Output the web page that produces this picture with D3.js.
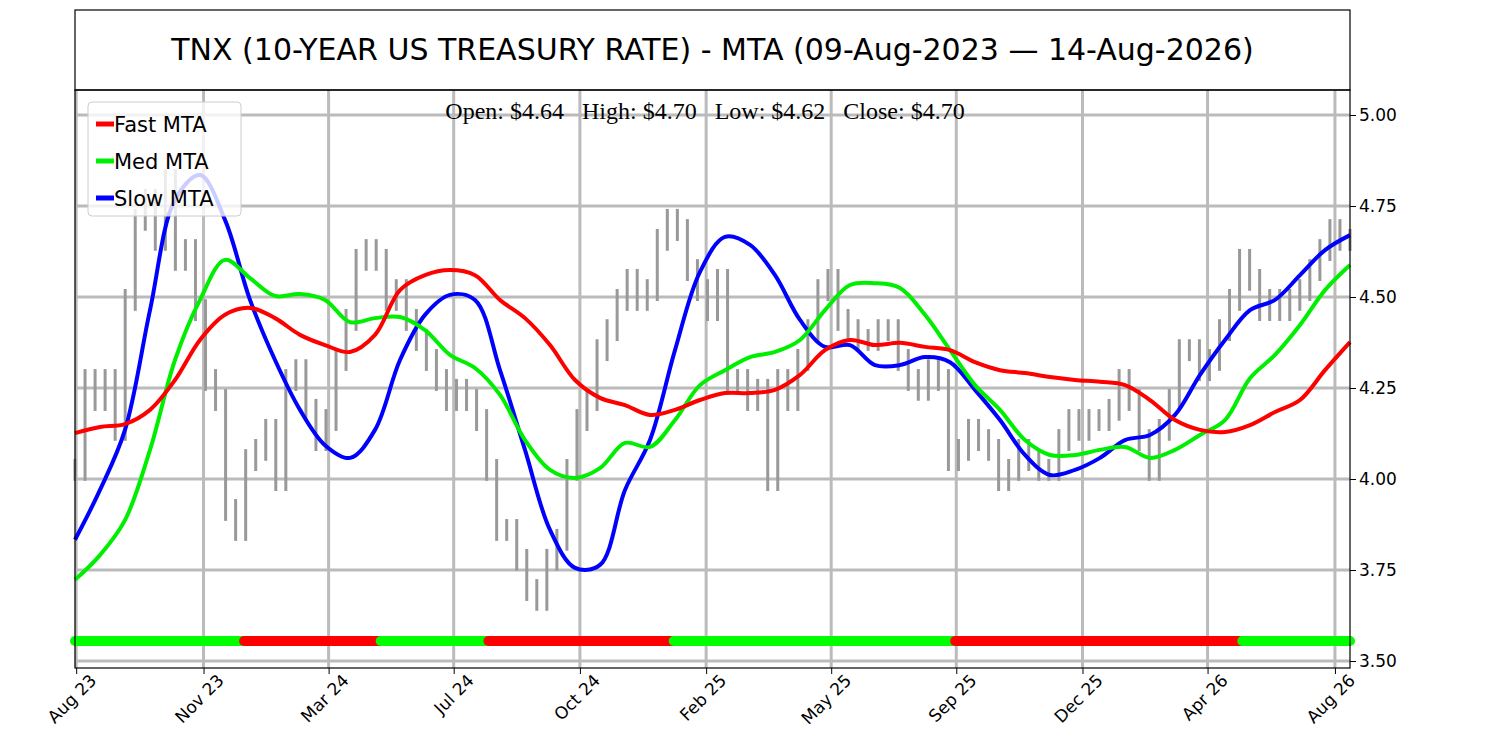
<!DOCTYPE html>
<html><head><meta charset="utf-8">
<script src="https://cdn.jsdelivr.net/npm/d3@7"></script>
<style>body{margin:0;background:#fff}</style>
</head><body>
<script>
// data
var startDate = new Date(2023, 7, 9), endDate = new Date(2026, 7, 14);
var priceClose = [4.025,4.272,4.217,4.272,4.135,4.492,4.712,4.767,4.657,4.821,4.602,4.629,4.464,4.272,4.217,3.915,3.86,4.052,4.08,4.135,3.997,4.272,4.299,4.19,4.107,4.162,4.327,4.437,4.602,4.629,4.602,4.492,4.519,4.437,4.382,4.327,4.272,4.217,4.245,4.217,4.162,4.025,3.86,3.86,3.778,3.695,3.668,3.778,3.833,4.025,4.162,4.217,4.354,4.409,4.492,4.547,4.492,4.519,4.657,4.712,4.684,4.574,4.519,4.464,4.547,4.272,4.272,4.217,4.245,3.997,4.272,4.217,4.327,4.409,4.519,4.547,4.437,4.409,4.382,4.382,4.409,4.409,4.327,4.272,4.245,4.299,4.272,4.052,4.08,4.135,4.107,4.08,3.997,4.025,4.08,4.052,4.025,4.025,4.107,4.162,4.135,4.162,4.162,4.19,4.272,4.217,4.107,4.025,4.135,4.217,4.354,4.354,4.299,4.327,4.409,4.492,4.602,4.547,4.464,4.492,4.464,4.492,4.519,4.574,4.629,4.684,4.657,4.657];
var fastMTA = [4.126,4.143,4.151,4.19,4.272,4.382,4.451,4.47,4.442,4.396,4.368,4.349,4.396,4.519,4.56,4.574,4.56,4.492,4.442,4.368,4.272,4.223,4.203,4.176,4.19,4.217,4.236,4.236,4.245,4.286,4.354,4.382,4.368,4.374,4.363,4.354,4.321,4.299,4.291,4.28,4.272,4.267,4.258,4.217,4.162,4.135,4.129,4.148,4.184,4.217,4.299,4.376];
var medMTA = [3.723,3.791,3.887,4.08,4.327,4.492,4.602,4.552,4.503,4.508,4.492,4.431,4.442,4.445,4.409,4.341,4.305,4.231,4.107,4.025,4.003,4.03,4.099,4.088,4.162,4.258,4.299,4.335,4.349,4.382,4.464,4.533,4.538,4.525,4.451,4.354,4.258,4.19,4.107,4.066,4.066,4.08,4.088,4.058,4.08,4.121,4.162,4.277,4.341,4.423,4.519,4.588];
var slowMTA = [3.833,3.970,4.135,4.464,4.767,4.835,4.712,4.492,4.327,4.19,4.093,4.058,4.135,4.327,4.451,4.506,4.492,4.299,4.08,3.86,3.756,3.764,3.97,4.107,4.354,4.569,4.665,4.643,4.56,4.437,4.363,4.368,4.313,4.313,4.335,4.321,4.245,4.162,4.066,4.011,4.025,4.058,4.107,4.121,4.176,4.286,4.382,4.464,4.492,4.56,4.629,4.67];
var signalBreaks = ["2023-08-09","2024-01-02","2024-04-29","2024-07-31","2025-01-07","2025-09-07","2026-05-13","2026-08-14"];
var signalColors = ["#00ff00","#ff0000","#00ff00","#ff0000","#00ff00","#ff0000","#00ff00"];
var yTicks = [3.50,3.75,4.00,4.25,4.50,4.75,5.00];
var xTickDates = ["2023-08-10","2023-11-28","2024-03-15","2024-07-01","2024-10-18","2025-02-04","2025-05-23","2025-09-08","2025-12-26","2026-04-13","2026-08-01"];
var xTickLabels = ["Aug 23","Nov 23","Mar 24","Jul 24","Oct 24","Feb 25","May 25","Sep 25","Dec 25","Apr 26","Aug 26"];

var W = 1500, H = 750;
var L = 75, R = 1350, T = 90, B = 668;
var parse = d3.timeParse("%Y-%m-%d");

var svg = d3.select("body").append("svg").attr("width", W).attr("height", H)
    .style("font-family", "DejaVu Sans, sans-serif");

var x = d3.scaleTime().domain([startDate, endDate]).range([L, R]);
var y = d3.scaleLinear().domain([3.4808, 5.0687]).range([B, T]);

function datesFor(arr) {
  var span = endDate - startDate;
  return arr.map(function(v, i){ return {date: new Date(+startDate + span * i / (arr.length - 1)), v: v}; });
}

// grid
svg.append("g").selectAll("line").data(yTicks).enter().append("line")
  .attr("x1", L).attr("x2", R).attr("y1", y).attr("y2", y)
  .attr("stroke", "#bbbbbb").attr("stroke-width", 3);
svg.append("g").selectAll("line").data(xTickDates).enter().append("line")
  .attr("x1", function(d){ return x(parse(d)); }).attr("x2", function(d){ return x(parse(d)); })
  .attr("y1", T).attr("y2", B).attr("stroke", "#bbbbbb").attr("stroke-width", 3);

// price bars
var price = datesFor(priceClose);
svg.append("g").selectAll("line").data(price).enter().append("line")
  .attr("x1", function(d){ return x(d.date); }).attr("x2", function(d){ return x(d.date); })
  .attr("y1", function(d, i){ var p = i ? price[i-1].v : d.v; return y(Math.max(p, d.v) + 0.03); })
  .attr("y2", function(d, i){ var p = i ? price[i-1].v : d.v; return y(Math.min(p, d.v) - 0.03); })
  .attr("stroke", "#999999").attr("stroke-width", 3);

// MTA lines
var line = d3.line().curve(d3.curveCatmullRom).x(function(d){ return x(d.date); }).y(function(d){ return y(d.v); });
[[slowMTA, "#0000ff"], [medMTA, "#00ee00"], [fastMTA, "#ff0000"]].forEach(function(s){
  svg.append("path").datum(datesFor(s[0])).attr("d", line)
    .attr("fill", "none").attr("stroke", s[1]).attr("stroke-width", 4);
});

// signal band
svg.append("g").selectAll("line").data(signalColors).enter().append("line")
  .attr("x1", function(d, i){ return x(parse(signalBreaks[i])); })
  .attr("x2", function(d, i){ return x(parse(signalBreaks[i+1])); })
  .attr("y1", y(3.555)).attr("y2", y(3.555))
  .attr("stroke", function(d){ return d; }).attr("stroke-width", 10).attr("stroke-linecap", "round");

// frame
svg.append("rect").attr("x", L).attr("y", T).attr("width", R - L).attr("height", B - T)
  .attr("fill", "none").attr("stroke", "#000").attr("stroke-width", 1.2);
svg.append("rect").attr("x", L).attr("y", 10).attr("width", R - L).attr("height", T - 10)
  .attr("fill", "none").attr("stroke", "#000").attr("stroke-width", 1.2);
svg.append("text").attr("x", (L + R) / 2).attr("y", 60).attr("text-anchor", "middle")
  .attr("font-size", 30).text("TNX (10-YEAR US TREASURY RATE) - MTA (09-Aug-2023 \u2014 14-Aug-2026)");
svg.append("text").attr("x", 705).attr("y", 119).attr("text-anchor", "middle")
  .attr("font-family", "DejaVu Serif, Liberation Serif, serif").attr("font-size", 24)
  .attr("font-family", "Liberation Serif, serif")
  .text("Open: $4.64   High: $4.70   Low: $4.62   Close: $4.70").style("white-space", "pre");

// axes
var yAxis = svg.append("g").attr("transform", "translate(" + R + ",0)")
  .call(d3.axisRight(y).tickValues(yTicks).tickFormat(d3.format(".2f")).tickSize(6));
yAxis.select(".domain").remove();
yAxis.selectAll("text").attr("font-size", 17).attr("font-family", "DejaVu Sans, sans-serif");
var xAxis = svg.append("g").attr("transform", "translate(0," + B + ")")
  .call(d3.axisBottom(x).tickValues(xTickDates.map(parse)).tickFormat(function(d, i){ return xTickLabels[i]; }).tickSize(6));
xAxis.select(".domain").remove();
xAxis.selectAll("text").attr("font-size", 17).attr("font-family", "DejaVu Sans, sans-serif")
  .attr("text-anchor", "end").attr("dx", "0.3em").attr("dy", "0.9em").attr("transform", "rotate(-45)");

// legend
var lg = svg.append("g").attr("transform", "translate(88,102)");
lg.append("rect").attr("width", 153).attr("height", 114).attr("rx", 4)
  .attr("fill", "#fff").attr("fill-opacity", 0.8).attr("stroke", "#ccc");
[["Fast MTA", "#ff0000"], ["Med MTA", "#00ee00"], ["Slow MTA", "#0000ff"]].forEach(function(d, i){
  lg.append("line").attr("x1", 8).attr("x2", 26).attr("y1", 22 + i * 37).attr("y2", 22 + i * 37)
    .attr("stroke", d[1]).attr("stroke-width", 5);
  lg.append("text").attr("x", 26).attr("y", 30 + i * 37).attr("font-size", 21).text(d[0]);
});
</script>
</body></html>
